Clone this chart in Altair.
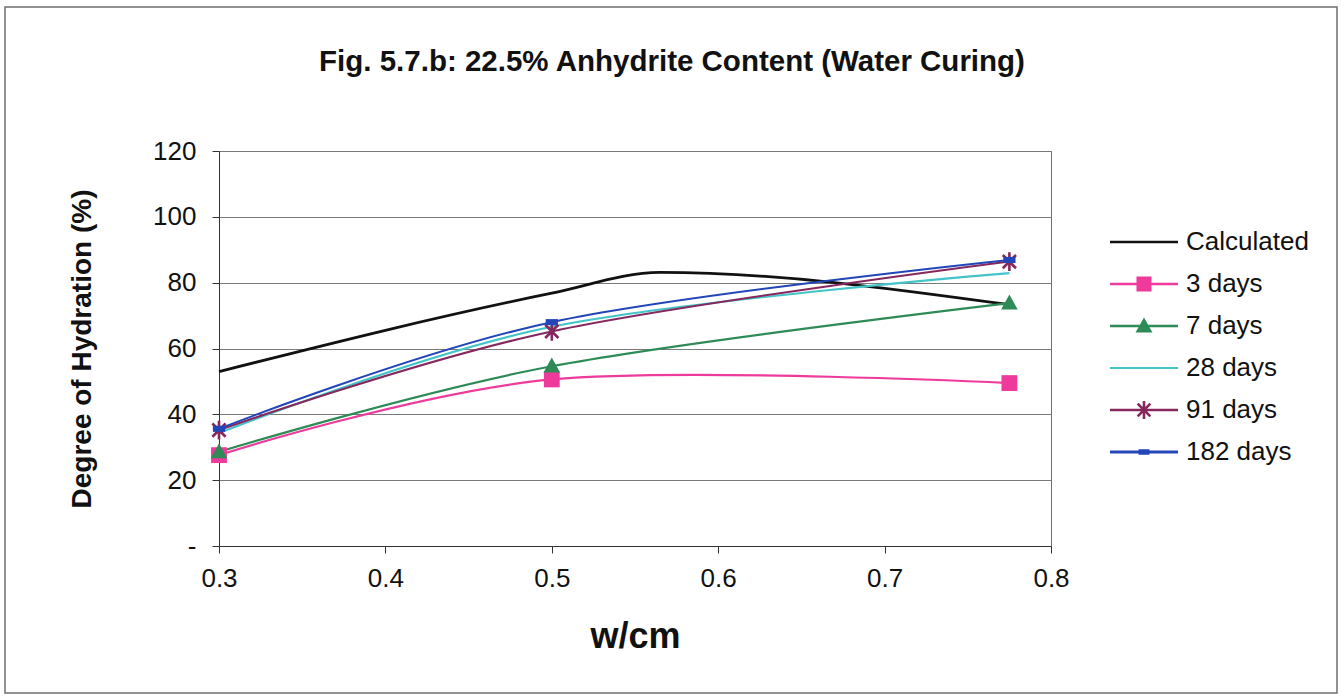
import math
import altair as alt
import pandas as pd

# ---------------- data ----------------
series_names = ["Calculated", "3 days", "7 days", "28 days", "91 days", "182 days"]
x_calculated = [0.3, 0.5, 0.565, 0.775]
y_calculated = [53.0, 76.8, 83.1, 73.3]
x_wcm = [0.3, 0.5, 0.775]
y_3days = [27.6, 50.6, 49.5]
y_7days = [28.6, 54.6, 73.8]
y_28days = [34.3, 66.6, 82.9]
y_91days = [35.2, 65.2, 86.4]
y_182days = [35.6, 68.0, 86.9]
x_ticks = [0.3, 0.4, 0.5, 0.6, 0.7, 0.8]
y_ticks = [0, 20, 40, 60, 80, 100, 120]
legend_rank = [0, 1, 2, 3, 4, 5]

# ---------------- styles ----------------
colors = ["#111111", "#EE3A9A", "#2E8B57", "#44C4C8", "#86285E", "#2246B8"]
widths = [2.8, 2.2, 2.0, 1.8, 2.8, 3.2]
FONT = "Liberation Sans"

rows = []
for xv, yv in zip(x_calculated, y_calculated):
    rows.append({"series": "Calculated", "x": xv, "y": yv})
for name, ys in zip(series_names[1:], [y_3days, y_7days, y_28days, y_91days, y_182days]):
    for xv, yv in zip(x_wcm, ys):
        rows.append({"series": name, "x": xv, "y": yv})
df = pd.DataFrame(rows)
legend_df = pd.DataFrame({"series": series_names, "rank": legend_rank})


# ---------------- marker path helpers ----------------
def fmt(v):
    return f"{v:.3f}"


def poly(pts):
    area = 0.0
    for i in range(len(pts)):
        x0, y0 = pts[i]
        x1, y1 = pts[(i + 1) % len(pts)]
        area += x0 * y1 - x1 * y0
    if area < 0:
        pts = pts[::-1]
    return "M" + "L".join(f"{fmt(a)},{fmt(b)}" for a, b in pts) + "Z"


def rect(x0, y0, x1, y1):
    return poly([(x0, y0), (x1, y0), (x1, y1), (x0, y1)])


def arm(angle_deg, half_len, half_w):
    t = math.radians(angle_deg)
    ux, uy = math.cos(t), math.sin(t)
    nx, ny = -uy, ux
    pts = [
        (half_len * ux + half_w * nx, half_len * uy + half_w * ny),
        (half_len * ux - half_w * nx, half_len * uy - half_w * ny),
        (-half_len * ux - half_w * nx, -half_len * uy - half_w * ny),
        (-half_len * ux + half_w * nx, -half_len * uy + half_w * ny),
    ]
    return poly(pts)


def square(h):
    return rect(-h, -h, h, h)


def triangle(top, base, half):
    return poly([(0, -top), (half, base), (-half, base)])


def asterisk(L, w):
    return arm(90, L, w) + arm(45, L, w) + arm(135, L, w)


def dash(hw, hh):
    return rect(-hw, -hh, hw, hh)


# plot markers (unit paths, scaled by size)
marker_specs = {
    "3 days": (square(1.0), 250),
    "7 days": (triangle(1.1, 0.8, 1.05), 250),
    "91 days": (asterisk(1.0, 0.14), 350),
    "182 days": (dash(1.0, 0.5), 150),
}

# legend symbols: line + marker in one filled path (r = 34 px)
R = 34.0
line_part = rect(-1, -1.2 / R, 1, 1.2 / R)
legend_paths = [
    rect(-1, -1.3 / R, 1, 1.3 / R),
    line_part + square(7.5 / R),
    line_part + triangle(8.5 / R, 6.5 / R, 8.5 / R),
    rect(-1, -1.0 / R, 1, 1.0 / R),
    line_part + asterisk(9 / R, 1.3 / R),
    rect(-1, -1.5 / R, 1, 1.5 / R) + dash(5.5 / R, 2.8 / R),
]

x_enc = alt.X(
    "x:Q",
    scale=alt.Scale(domain=[0.3, 0.8], nice=False, zero=False),
    axis=alt.Axis(
        values=x_ticks, format=".1f", title="w/cm", grid=False,
        tickSize=7, tickColor="#333333", domainColor="#333333",
        labelFont=FONT, labelFontSize=26, labelColor="#111111", labelPadding=12,
        titleFont=FONT, titleFontSize=36, titleFontWeight="bold", titleColor="#111111",
        titlePadding=28, labelFlush=False,
    ),
)
y_enc = alt.Y(
    "y:Q",
    scale=alt.Scale(domain=[0, 120], nice=False),
    axis=alt.Axis(
        values=y_ticks, labelExpr="datum.value == 0 ? '-' : datum.label",
        title="Degree of Hydration (%)", grid=True, gridColor="#7a7a7a", gridWidth=1,
        tickSize=7, tickColor="#333333", domainColor="#333333",
        labelFont=FONT, labelFontSize=26, labelColor="#111111", labelPadding=16,
        titleFont=FONT, titleFontSize=28, titleFontWeight="bold", titleColor="#111111",
        titlePadding=56,
    ),
)

base = alt.Chart(df)

calc_line = base.transform_filter(alt.datum.series == "Calculated").mark_line(
    interpolate="monotone", color=colors[0], strokeWidth=widths[0]
).encode(x=x_enc, y=y_enc)

other_names = series_names[1:]
other_lines = base.transform_filter(
    alt.FieldOneOfPredicate(field="series", oneOf=other_names)
).mark_line(interpolate="cardinal").encode(
    x="x:Q",
    y="y:Q",
    stroke=alt.Stroke("series:N", scale=alt.Scale(domain=other_names, range=colors[1:]), legend=None),
    strokeWidth=alt.StrokeWidth("series:N", scale=alt.Scale(domain=other_names, range=widths[1:]), legend=None),
)

data_layers = [calc_line, other_lines]
for name, (path, size) in marker_specs.items():
    c = colors[series_names.index(name)]
    data_layers.append(
        base.transform_filter(alt.datum.series == name)
        .mark_point(shape=path, size=size, filled=True, color=c, opacity=1, strokeWidth=0)
        .encode(x="x:Q", y="y:Q")
    )
data_chart = alt.layer(*data_layers)

# legend drawn from its own small table
leg_y = alt.Y("rank:Q", scale=alt.Scale(domain=[0, 5], range=[91, 301]), axis=None)
leg_base = alt.Chart(legend_df)
leg_symbols = leg_base.mark_point(filled=True, size=4624, opacity=1, strokeWidth=0).encode(
    x=alt.value(925),
    y=leg_y,
    shape=alt.Shape("series:N", scale=alt.Scale(domain=series_names, range=legend_paths), legend=None),
    fill=alt.Fill("series:N", scale=alt.Scale(domain=series_names, range=colors), legend=None),
)
leg_labels = leg_base.mark_text(
    align="left", baseline="middle", font=FONT, fontSize=26, color="#111111"
).encode(x=alt.value(967), y=leg_y, text="series:N")
legend_chart = alt.layer(leg_symbols, leg_labels)

frame = alt.Chart(pd.DataFrame({"k": [0]})).mark_rect(
    fillOpacity=0, stroke="#6f6f6f", strokeWidth=1.5
).encode(
    x=alt.value(-214), x2=alt.value(1118), y=alt.value(-144), y2=alt.value(542)
)

chart = alt.layer(data_chart, legend_chart, frame).resolve_scale(y="independent").properties(
    width=832,
    height=395,
    padding={"left": 219, "top": 151, "right": 293, "bottom": 154},
    autosize=alt.AutoSizeParams(type="none"),
    background="white",
    title=alt.TitleParams(
        "Fig. 5.7.b: 22.5% Anhydrite Content (Water Curing)",
        font=FONT, fontSize=29.5, fontWeight="bold", color="#111111",
        anchor="middle", dx=37, offset=-71,
    ),
).configure_view(stroke="#6f6f6f", strokeWidth=1)

chart.save("out.html", embed_options={"renderer": "svg", "actions": False})
